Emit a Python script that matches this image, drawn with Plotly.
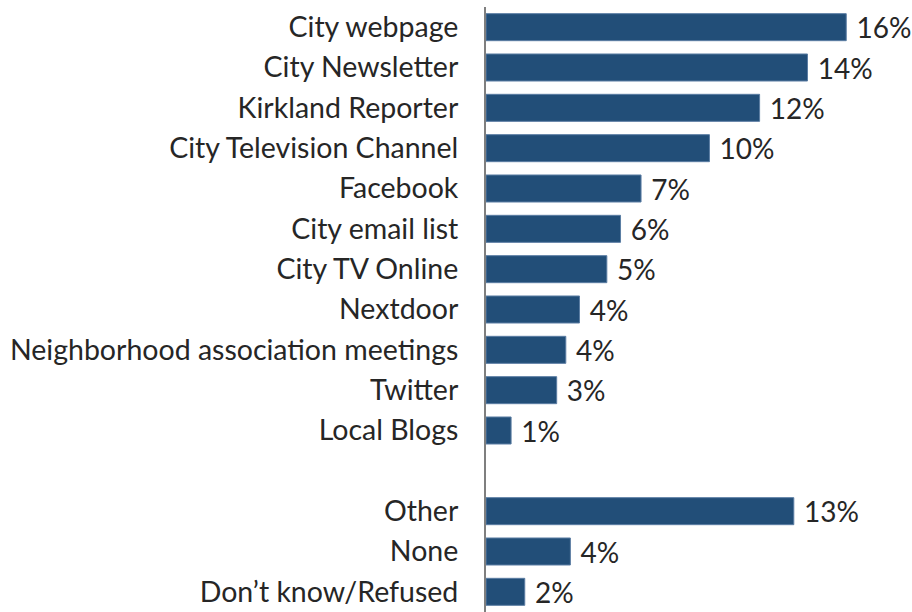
import plotly.graph_objects as go

categories = [
    "City webpage", "City Newsletter", "Kirkland Reporter", "City Television Channel",
    "Facebook", "City email list", "City TV Online", "Nextdoor",
    "Neighborhood association meetings", "Twitter", "Local Blogs",
    " ", "Other", "None", "Don\u2019t know/Refused",
]
values = [15.8, 14.1, 12.0, 9.8, 6.8, 5.9, 5.3, 4.1, 3.5, 3.1, 1.1, None, 13.5, 3.7, 1.7]
value_labels = ["16%", "14%", "12%", "10%", "7%", "6%", "5%", "4%", "4%", "3%", "1%", "",
                "13%", "4%", "2%"]

FONT = "Lato"
TEXT_COLOR = "#262626"

fig = go.Figure(go.Bar(
    y=categories, x=values, orientation="h",
    marker=dict(color="#224E78", line=dict(color="#5B7DA3", width=1)),
    text=["\u00a0" + t if t else "" for t in value_labels],
    textposition="outside", cliponaxis=False, constraintext="none",
    textfont=dict(family=FONT, size=28, color=TEXT_COLOR),
    hoverinfo="skip",
))

fig.update_layout(
    width=912, height=612,
    margin=dict(l=486, r=0, t=7, b=0, autoexpand=False),
    paper_bgcolor="white", plot_bgcolor="white",
    bargap=0.33, showlegend=False,
    font=dict(family=FONT, color=TEXT_COLOR),
)
fig.update_xaxes(range=[0, 426 / 22.8], visible=False, showgrid=False, zeroline=False,
                 automargin=False)
fig.update_yaxes(
    type="category", categoryorder="array", categoryarray=categories,
    autorange="reversed", showgrid=False, zeroline=False, automargin=False,
    showline=True, linecolor="#7F7F7F", linewidth=2,
    ticks="", ticklabelstandoff=20,
    tickfont=dict(family=FONT, size=28.5, color=TEXT_COLOR),
)

fig.write_html(
    "out.html",
    config={"displayModeBar": False, "staticPlot": True},
    post_script="document.body.style.margin='0';document.body.style.overflow='hidden';",
)
